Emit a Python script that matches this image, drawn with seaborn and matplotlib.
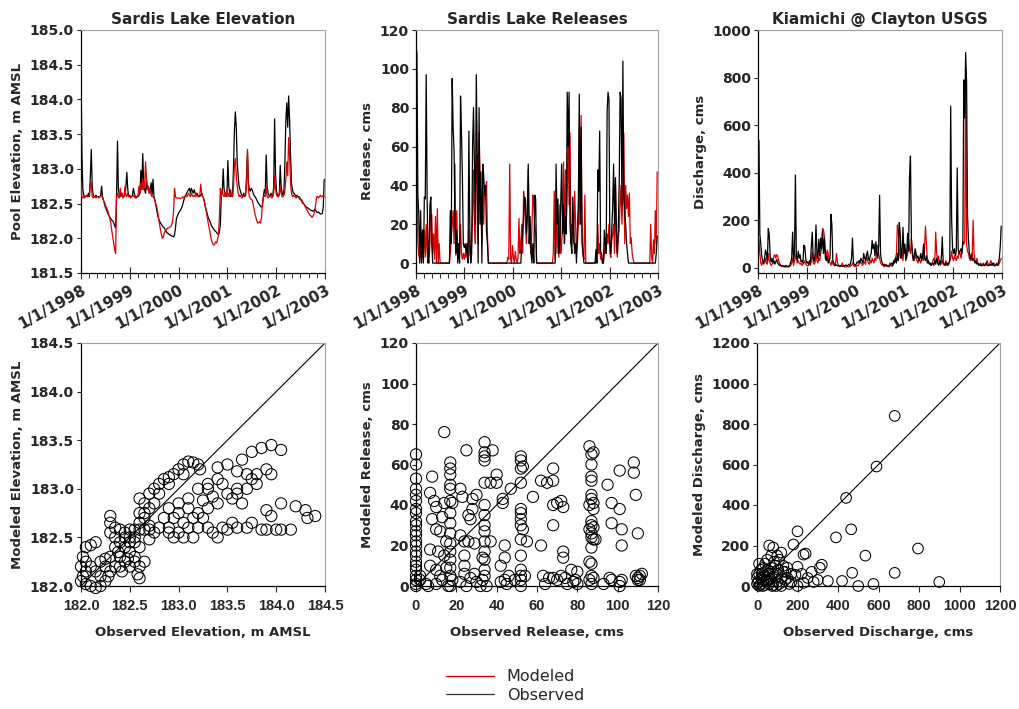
import pandas as pd
import matplotlib
matplotlib.use("Agg")
import matplotlib.pyplot as plt
import matplotlib.dates as mdates
from matplotlib.ticker import FuncFormatter, MultipleLocator, FormatStrFormatter
from matplotlib.lines import Line2D
import seaborn as sns

# weekly values starting 1/1/1998
elev_obs = [
    184.4, 183.2, 182.7, 182.62, 182.6, 182.6, 182.62, 182.6, 182.65, 182.6, 182.9, 183.28, 182.75,
    182.62, 182.6, 182.6, 182.62, 182.6, 182.6, 182.6, 182.6, 182.62, 182.75, 182.6, 182.55, 182.5,
    182.45, 182.42, 182.38, 182.35, 182.32, 182.3, 182.28, 182.26, 182.25, 182.22, 182.18, 182.15, 182.6,
    183.4, 182.7, 182.62, 182.6, 182.65, 182.62, 182.6, 182.6, 182.62, 182.75, 182.95, 182.7, 182.6,
    182.62, 182.6, 182.6, 182.62, 182.72, 182.65, 182.6, 182.58, 182.6, 182.6, 182.62, 182.65, 182.98,
    182.7, 183.22, 182.8, 182.7, 182.65, 182.85, 182.7, 182.75, 182.65, 182.7, 182.8, 182.62, 182.85,
    182.6, 182.55, 182.48, 182.4, 182.33, 182.28, 182.25, 182.22, 182.2, 182.18, 182.16, 182.15, 182.12,
    182.1, 182.08, 182.07, 182.06, 182.05, 182.04, 182.03, 182.03, 182.02, 182.05, 182.15, 182.28, 182.32,
    182.35, 182.38, 182.4, 182.42, 182.45, 182.5, 182.55, 182.6, 182.62, 182.65, 182.68, 182.7, 182.72,
    182.65, 182.72, 182.68, 182.65, 182.7, 182.65, 182.62, 182.65, 182.62, 182.6, 182.6, 182.62, 182.65,
    182.6, 182.58, 182.52, 182.45, 182.4, 182.35, 182.3, 182.27, 182.24, 182.2, 182.17, 182.15, 182.13,
    182.11, 182.1, 182.08, 182.07, 182.05, 182.1, 182.2, 182.62, 182.65, 183.0, 182.7, 182.65, 182.6,
    182.62, 183.12, 182.75, 182.65, 182.6, 182.62, 182.6, 183.0, 183.55, 183.82, 183.6, 183.1, 182.9,
    182.75, 182.7, 182.65, 182.62, 182.6, 182.65, 182.6, 182.62, 182.9, 183.25, 182.8, 182.7, 182.68,
    182.72, 182.7, 182.65, 182.62, 182.6, 182.58, 182.55, 182.52, 182.5, 182.48, 182.46, 182.45, 182.47,
    182.6, 182.7, 182.65, 183.2, 182.75, 182.65, 182.62, 182.6, 182.65, 182.62, 182.6, 182.75, 183.72,
    182.9, 182.68, 182.62, 182.6, 182.65, 183.05, 182.75, 182.65, 182.62, 182.7, 183.1, 183.7, 183.95,
    183.6, 184.05, 183.7, 183.2, 182.8, 182.7, 182.65, 182.65, 182.62, 182.6, 182.62, 182.6, 182.6,
    182.58, 182.56, 182.55, 182.52, 182.5, 182.48, 182.46, 182.45, 182.44, 182.43, 182.42, 182.41, 182.4,
    182.4, 182.39, 182.4, 182.42, 182.4, 182.38, 182.37, 182.38, 182.36, 182.35, 182.35, 182.36, 182.45,
    182.85,
]
elev_mod = [
    182.82, 182.6, 182.58, 182.6, 182.58, 182.6, 182.62, 182.6, 182.6, 182.62, 182.75, 182.8, 182.6,
    182.58, 182.6, 182.6, 182.58, 182.6, 182.6, 182.58, 182.6, 182.6, 182.62, 182.58, 182.55, 182.52,
    182.48, 182.45, 182.42, 182.38, 182.32, 182.28, 182.2, 182.1, 182.02, 181.92, 181.84, 181.78, 182.6,
    182.65, 182.6, 182.58, 182.72, 182.6, 182.65, 182.58, 182.6, 182.75, 182.62, 182.6, 182.65, 182.6,
    182.6, 182.58, 182.6, 182.6, 182.62, 182.6, 182.58, 182.6, 182.6, 182.62, 182.75, 182.65, 182.8,
    182.7, 182.85, 182.7, 182.75, 183.1, 182.85, 182.7, 182.75, 182.65, 182.7, 182.62, 182.6, 182.6,
    182.58, 182.55, 182.5, 182.45, 182.38, 182.28, 182.2, 182.12, 182.05, 182.0, 182.02, 182.08, 182.1,
    182.12, 182.14, 182.15, 182.15, 182.16, 182.17, 182.2, 182.25, 182.4, 182.72, 182.6, 182.58, 182.58,
    182.58, 182.58, 182.57, 182.58, 182.58, 182.6, 182.58, 182.6, 182.62, 182.6, 182.62, 182.65, 182.62,
    182.6, 182.65, 182.62, 182.6, 182.62, 182.6, 182.65, 182.6, 182.62, 182.6, 182.62, 182.78, 182.65,
    182.6, 182.58, 182.52, 182.45, 182.38, 182.3, 182.22, 182.15, 182.08, 182.0, 181.95, 181.92, 181.9,
    181.92, 181.95, 181.93, 181.98, 182.05, 182.3, 182.72, 182.6, 182.7, 182.62, 182.6, 182.65, 182.6,
    182.7, 182.6, 182.65, 182.6, 182.7, 182.62, 182.6, 182.72, 183.05, 183.15, 182.9, 182.75, 182.65,
    182.6, 182.62, 182.6, 182.58, 182.6, 182.62, 182.6, 182.65, 182.8, 183.28, 182.7, 182.6, 182.58,
    182.56, 182.55, 182.5, 182.42, 182.35, 182.3, 182.25, 182.22, 182.22, 182.24, 182.22, 182.3, 182.5,
    182.6, 182.62, 182.6, 182.75, 182.6, 182.58, 182.6, 182.62, 182.6, 182.58, 182.6, 182.65, 182.9,
    182.7, 182.62, 182.6, 182.6, 182.62, 182.75, 182.65, 182.6, 182.6, 182.62, 182.7, 182.85, 183.1,
    182.9, 183.45, 183.2, 182.8, 182.65, 182.6, 182.62, 182.6, 182.6, 182.58, 182.6, 182.6, 182.58,
    182.56, 182.55, 182.53, 182.5, 182.5, 182.48, 182.45, 182.42, 182.4, 182.37, 182.35, 182.33, 182.32,
    182.3, 182.32, 182.35, 182.4, 182.5, 182.6, 182.6, 182.58, 182.6, 182.62, 182.6, 182.6, 182.62,
    182.6,
]

rel_obs = [
    112, 108, 35, 25, 0, 27, 0, 17, 0, 34, 33, 97, 34,
    0, 5, 30, 34, 10, 0, 0, 0, 0, 0, 0, 0, 0,
    0, 0, 0, 0, 0, 0, 0, 0, 0, 0, 0, 27, 10,
    95, 70, 58, 20, 5, 17, 0, 10, 0, 86, 68, 45, 10,
    8, 10, 5, 10, 0, 68, 17, 0, 5, 61, 80, 50, 20,
    97, 56, 0, 80, 20, 47, 0, 51, 45, 35, 40, 16, 10,
    0, 0, 0, 0, 0, 0, 0, 0, 0, 0, 0, 0, 0,
    0, 0, 0, 0, 0, 0, 0, 0, 0, 0, 0, 0, 0,
    0, 0, 0, 0, 0, 0, 0, 0, 0, 0, 10, 15, 24,
    34, 33, 15, 24, 51, 10, 24, 5, 0, 10, 0, 35, 33,
    0, 0, 0, 0, 0, 0, 0, 0, 0, 0, 0, 0, 0,
    0, 0, 0, 0, 0, 0, 0, 0, 51, 20, 33, 5, 10,
    30, 51, 15, 30, 10, 24, 15, 88, 60, 88, 20, 10, 5,
    34, 17, 5, 10, 0, 17, 30, 87, 20, 70, 10, 5, 0,
    0, 0, 0, 0, 0, 0, 0, 0, 0, 0, 0, 0, 7,
    0, 48, 37, 68, 6, 5, 0, 0, 17, 10, 5, 78, 88,
    84, 10, 5, 17, 29, 51, 20, 44, 17, 5, 17, 40, 88,
    85, 30, 104, 35, 25, 20, 10, 5, 0, 0, 0, 0, 0,
    0, 0, 0, 0, 0, 0, 0, 0, 0, 0, 0, 0, 0,
    0, 0, 0, 0, 0, 0, 0, 0, 0, 0, 0, 0, 5,
    14,
]
rel_mod = [
    4, 60, 11, 4, 2, 10, 2, 17, 5, 17, 3, 20, 5,
    2, 0, 10, 25, 25, 5, 15, 2, 24, 0, 28, 0, 10,
    0, 0, 0, 0, 0, 0, 0, 0, 0, 0, 0, 5, 13,
    20, 27, 10, 51, 4, 27, 2, 10, 5, 20, 5, 2, 5,
    2, 5, 3, 10, 2, 17, 5, 2, 10, 25, 48, 20, 10,
    48, 56, 10, 67, 46, 30, 10, 45, 20, 40, 35, 42, 15,
    0, 0, 0, 0, 0, 0, 0, 0, 0, 0, 0, 0, 0,
    0, 0, 0, 0, 0, 0, 0, 0, 3, 2, 51, 2, 0,
    9, 3, 0, 6, 2, 0, 3, 23, 5, 10, 20, 5, 37,
    30, 20, 10, 25, 48, 20, 10, 5, 20, 35, 30, 20, 15,
    0, 0, 0, 0, 0, 0, 0, 0, 0, 0, 0, 0, 0,
    0, 0, 0, 0, 0, 5, 37, 2, 30, 5, 20, 3, 30,
    5, 10, 20, 52, 10, 48, 20, 35, 67, 30, 67, 10, 20,
    15, 10, 37, 20, 5, 10, 20, 70, 20, 76, 15, 5, 2,
    35, 0, 0, 0, 0, 0, 0, 0, 0, 0, 0, 0, 2,
    0, 20, 5, 10, 2, 3, 0, 0, 5, 10, 5, 15, 10,
    20, 5, 3, 12, 15, 20, 5, 40, 10, 3, 12, 17, 30,
    40, 20, 35, 67, 10, 40, 28, 35, 24, 36, 10, 13, 5,
    2, 0, 0, 0, 0, 0, 0, 0, 0, 0, 0, 0, 0,
    0, 0, 0, 0, 0, 0, 20, 3, 0, 12, 5, 27, 10,
    47,
]

q_obs = [
    60, 535, 140, 100, 50, 30, 20, 40, 75, 60, 30, 165, 140,
    50, 25, 40, 20, 30, 15, 25, 35, 20, 15, 10, 12, 8,
    10, 6, 8, 5, 10, 6, 5, 8, 10, 25, 40, 150, 30,
    60, 390, 50, 30, 70, 40, 55, 25, 30, 20, 95, 90, 40,
    20, 25, 15, 30, 20, 90, 150, 40, 25, 60, 180, 60, 40,
    120, 50, 125, 80, 155, 60, 125, 40, 30, 50, 20, 30, 40,
    225, 180, 30, 20, 15, 10, 12, 8, 10, 6, 8, 10, 6,
    5, 8, 10, 12, 8, 10, 15, 10, 20, 40, 125, 20, 15,
    10, 15, 25, 20, 30, 20, 40, 30, 20, 60, 40, 30, 50,
    70, 40, 30, 50, 60, 115, 80, 100, 50, 110, 60, 40, 90,
    305, 60, 30, 20, 10, 15, 8, 10, 6, 8, 5, 10, 15,
    20, 10, 30, 20, 40, 20, 60, 30, 190, 150, 40, 60, 170,
    60, 100, 30, 60, 145, 70, 385, 470, 120, 60, 30, 50, 80,
    60, 40, 50, 30, 40, 60, 30, 50, 100, 40, 30, 50, 20,
    30, 15, 20, 10, 15, 20, 10, 30, 15, 40, 20, 10, 30,
    15, 40, 130, 20, 15, 10, 20, 15, 10, 20, 30, 680, 205,
    80, 60, 80, 50, 70, 420, 80, 60, 70, 80, 60, 100, 790,
    630, 905, 780, 220, 120, 60, 40, 50, 30, 40, 30, 20, 30,
    15, 20, 10, 15, 10, 8, 10, 15, 8, 10, 20, 10, 8,
    12, 10, 15, 10, 20, 10, 8, 10, 15, 10, 20, 40, 90,
    175,
]
q_mod = [
    20, 120, 60, 20, 10, 30, 15, 20, 40, 20, 15, 60, 30,
    20, 10, 15, 20, 50, 55, 40, 55, 50, 30, 20, 10, 5,
    8, 5, 4, 5, 3, 4, 5, 3, 5, 10, 20, 40, 10,
    30, 40, 60, 20, 30, 20, 15, 20, 10, 15, 20, 30, 15,
    10, 8, 10, 20, 10, 30, 65, 20, 15, 20, 60, 30, 20,
    40, 30, 60, 80, 165, 160, 130, 70, 40, 75, 60, 30, 20,
    10, 30, 15, 10, 8, 20, 60, 20, 10, 8, 5, 8, 20,
    10, 5, 3, 5, 4, 5, 3, 5, 8, 10, 20, 10, 5,
    8, 5, 10, 8, 15, 30, 20, 15, 10, 30, 20, 15, 60,
    30, 20, 15, 30, 20, 40, 30, 20, 40, 30, 85, 95, 60,
    40, 20, 15, 10, 8, 5, 10, 15, 10, 5, 8, 20, 10,
    5, 10, 20, 30, 40, 60, 180, 160, 70, 40, 80, 60, 30,
    80, 60, 80, 40, 60, 120, 80, 60, 120, 70, 40, 30, 60,
    40, 30, 20, 40, 30, 20, 40, 60, 30, 80, 175, 100, 40,
    30, 20, 15, 10, 20, 30, 40, 20, 150, 60, 30, 50, 20,
    10, 20, 30, 15, 10, 20, 30, 10, 20, 15, 30, 40, 70,
    40, 30, 50, 40, 30, 50, 40, 70, 60, 40, 70, 110, 100,
    110, 840, 100, 70, 60, 40, 30, 60, 40, 200, 60, 30, 20,
    40, 20, 10, 15, 20, 10, 15, 20, 10, 15, 20, 30, 15,
    10, 20, 30, 15, 10, 20, 15, 10, 20, 15, 10, 20, 30,
    40,
]

# (observed, modeled) pairs for the scatter panels
elev_pairs = [
    (182.6, 182.9), (182.65, 182.85), (182.7, 182.95), (182.75, 183.0), (182.8, 183.05),
    (182.85, 183.1), (182.9, 183.12), (182.95, 183.15), (183.0, 183.2), (183.05, 183.25),
    (183.1, 183.28), (183.15, 183.27), (183.2, 183.25), (183.22, 183.2), (182.75, 182.85),
    (182.8, 182.95), (182.9, 183.05), (183.05, 183.15), (182.7, 182.8), (182.65, 182.75),
    (183.0, 182.85), (183.1, 182.9), (183.2, 183.0), (183.3, 183.05), (183.4, 183.1),
    (183.4, 183.22), (183.5, 183.25), (183.6, 183.18), (183.7, 183.15), (183.8, 183.15),
    (183.9, 183.2), (183.95, 183.15), (183.65, 183.3), (183.75, 183.38), (183.85, 183.42),
    (183.95, 183.45), (184.05, 183.4), (183.3, 183.0), (183.45, 183.05), (183.5, 182.95),
    (183.55, 182.9), (183.6, 183.0), (183.7, 183.0), (183.75, 183.1), (183.8, 183.05),
    (183.3, 182.8), (183.4, 182.85), (183.2, 182.75), (183.1, 182.8), (183.0, 182.75),
    (182.9, 182.8), (182.95, 182.7), (183.05, 182.65), (183.15, 182.7), (183.25, 182.7),
    (183.3, 182.6), (183.2, 182.6), (183.1, 182.6), (183.0, 182.55), (182.9, 182.6),
    (182.85, 182.7), (182.8, 182.6), (182.9, 182.55), (183.05, 182.5), (183.4, 182.5),
    (183.45, 182.6), (183.55, 182.65), (183.5, 182.58), (183.6, 182.6), (183.7, 182.6),
    (183.75, 182.65), (183.85, 182.58), (183.9, 182.58), (184.0, 182.58), (184.05, 182.58),
    (184.15, 182.58), (183.9, 182.78), (183.95, 182.72), (184.05, 182.85), (184.2, 182.82),
    (184.3, 182.78), (184.32, 182.7), (184.4, 182.72), (183.65, 182.85), (183.6, 182.95),
    (183.35, 182.55), (183.15, 182.5), (182.95, 182.5), (183.25, 182.88), (183.35, 182.92),
    (182.3, 182.72), (182.3, 182.65), (182.35, 182.6), (182.4, 182.58), (182.35, 182.5),
    (182.3, 182.55), (182.5, 182.58), (182.55, 182.58), (182.6, 182.58), (182.65, 182.58),
    (182.7, 182.58), (182.45, 182.55), (182.5, 182.45), (182.45, 182.4), (182.5, 182.35),
    (182.55, 182.3), (182.6, 182.2), (182.55, 182.25), (182.5, 182.2), (182.65, 182.25),
    (182.6, 182.08), (182.58, 182.12), (182.7, 182.48), (182.75, 182.55), (182.7, 182.62),
    (182.65, 182.7), (182.6, 182.75), (182.6, 182.65), (182.45, 182.5), (182.4, 182.45),
    (182.35, 182.4), (182.4, 182.3), (182.35, 182.2), (182.3, 182.15), (182.28, 182.1),
    (182.25, 182.05), (182.2, 182.0), (182.15, 181.98), (182.1, 182.0), (182.05, 182.02),
    (182.0, 182.05), (182.02, 182.1), (182.05, 182.15), (182.0, 182.2), (182.02, 182.3),
    (182.05, 182.4), (182.1, 182.42), (182.15, 182.45), (182.05, 182.25), (182.1, 182.2),
    (182.15, 182.15), (182.2, 182.1), (182.25, 182.2), (182.2, 182.25), (182.3, 182.3),
    (182.25, 182.28), (182.4, 182.2), (182.45, 182.25), (182.55, 182.45), (182.6, 182.4),
    (182.5, 182.5), (182.55, 182.5), (182.38, 182.35), (182.42, 182.15), (182.48, 182.28),
]
rel_pairs = [
    (0, 65), (0, 60), (0, 53), (0, 48), (0, 45), (0, 42), (0, 38), (0, 36), (0, 32), (0, 30),
    (0, 27), (0, 25), (0, 22), (0, 20), (0, 17), (0, 15), (0, 12), (0, 10), (0, 8), (0, 5),
    (0, 3), (0, 1), (0, 0), (2, 3), (2, 5),
    (5, 1), (7, 18), (8, 33), (7, 46), (8, 54), (9, 42), (10, 39), (10, 28), (7, 10), (10, 8),
    (12, 5), (10, 1), (6, 0), (11, 17), (12, 27),
    (14, 76), (14, 41), (13, 34), (15, 22), (14, 15), (15, 9), (13, 3), (16, 0),
    (17, 61), (17, 58), (17, 55), (17, 50), (17, 48), (17, 42), (18, 41), (17, 36), (17, 31),
    (17, 26), (17, 21), (17, 17), (17, 13), (17, 9), (17, 5), (17, 0), (18, 3),
    (22, 48), (25, 67), (23, 44), (26, 35), (28, 43), (30, 45), (28, 38), (27, 33), (22, 25),
    (24, 22), (26, 22), (29, 21), (24, 15), (24, 10), (24, 6), (27, 4), (22, 2), (25, 0),
    (30, 2), (29, 6), (32, 0),
    (34, 71), (34, 66), (34, 64), (34, 62), (34, 51), (34, 40), (34, 35), (34, 30), (34, 27),
    (34, 22), (34, 17), (34, 13), (34, 8), (34, 5), (33, 3), (35, 0), (33, 14),
    (38, 67), (37, 51), (40, 51), (40, 55), (37, 22), (43, 43), (43, 41), (44, 20), (44, 14),
    (42, 10), (44, 3), (46, 5), (47, 48), (42, 2), (45, 1), (49, 3),
    (52, 64), (52, 62), (52, 58), (53, 59), (52, 51), (52, 38), (52, 36), (52, 33), (52, 30),
    (52, 23), (53, 28), (52, 15), (52, 8), (52, 5), (52, 3), (52, 0), (55, 22), (54, 5),
    (58, 44), (62, 52), (65, 51), (68, 58), (68, 52), (68, 40), (68, 30), (70, 41), (72, 42),
    (73, 39), (62, 20), (63, 5), (64, 1), (66, 4), (68, 4), (70, 3), (72, 5), (73, 17),
    (73, 14), (75, 1), (74, 4), (77, 8), (80, 7), (79, 3), (80, 1), (78, 2),
    (86, 69), (87, 65), (88, 66), (87, 60), (87, 54), (87, 52), (87, 45), (87, 43), (86, 40),
    (88, 38), (88, 41), (87, 32), (87, 30), (86, 28), (88, 29), (87, 26), (87, 24), (88, 23),
    (87, 19), (86, 12), (87, 11), (87, 5), (86, 3), (87, 1), (88, 4), (89, 23),
    (93, 1), (95, 50), (96, 4), (97, 41), (97, 31), (97, 3), (101, 38), (102, 28), (102, 20),
    (101, 57), (101, 2), (101, 0), (108, 61), (108, 56), (109, 45), (110, 26), (109, 5),
    (110, 3), (111, 5), (112, 6), (110, 4), (111, 3), (102, 3),
]
q_pairs = [
    (680, 840), (590, 590), (440, 435), (465, 280), (390, 240), (200, 270), (795, 185),
    (535, 150), (680, 65), (470, 65), (900, 20), (575, 10), (500, 0), (420, 25), (350, 25),
    (320, 105), (310, 90), (270, 70), (240, 160), (230, 155), (180, 205), (170, 60), (190, 55),
    (200, 95), (220, 60), (280, 20), (230, 15), (200, 0), (150, 40), (140, 70), (130, 100),
    (120, 165), (110, 130), (100, 150), (90, 100), (80, 190), (60, 200), (70, 150), (50, 130),
    (40, 110), (30, 90), (20, 80), (10, 60), (0, 40), (5, 20), (10, 0), (30, 0), (50, 30),
    (60, 60), (40, 70), (25, 60), (20, 40), (35, 50), (70, 90), (80, 60), (90, 40), (100, 20),
    (110, 10), (120, 40), (140, 30), (160, 10), (60, 10), (40, 5), (20, 10), (80, 5), (100, 60),
    (130, 70), (150, 90), (170, 20), (250, 40), (300, 30), (0, 10), (0, 60), (10, 110), (30, 30),
    (45, 25), (65, 35), (75, 0), (95, 0), (120, 0), (15, 5), (55, 75), (85, 120), (105, 80),
]

RED = "#dd0000"

sns.set_style("ticks")
plt.rcParams["font.family"] = ["DejaVu Sans"]
plt.rcParams["font.weight"] = "bold"
plt.rcParams["axes.labelweight"] = "bold"
plt.rcParams["axes.titleweight"] = "bold"
plt.rcParams["xtick.labelsize"] = 11
plt.rcParams["ytick.labelsize"] = 10
plt.rcParams["axes.labelsize"] = 9.5
plt.rcParams["axes.titlesize"] = 11

W, H = 1019, 709
fig = plt.figure(figsize=(W / 100, H / 100), dpi=100)


def px_axes(l, t, r, b):
    return fig.add_axes([l / W, 1 - b / H, (r - l) / W, (b - t) / H])


def frame(ax):
    for s in ["top", "right"]:
        ax.spines[s].set_color("#a0a0a0")
        ax.spines[s].set_linewidth(0.8)
    for s in ["left", "bottom"]:
        ax.spines[s].set_color("black")
        ax.spines[s].set_linewidth(0.9)
    ax.tick_params(axis="y", direction="out", length=3, width=0.8, pad=2)


def year_label(v, pos):
    d = mdates.num2date(v)
    return f"{d.month}/{d.day}/{d.year}"


def time_panel(ax, obs, mod, title, ylabel, ylim, ystep, fmt, red_top):
    dates_o = pd.date_range("1998-01-01", periods=len(obs), freq="7D")
    dates_m = pd.date_range("1998-01-01", periods=len(mod), freq="7D")
    zo, zm = (2, 3) if red_top else (3, 2)
    sns.lineplot(x=dates_o, y=obs, color="black", lw=0.9, estimator=None, ax=ax, zorder=zo)
    sns.lineplot(x=dates_m, y=mod, color=RED, lw=0.9, estimator=None, ax=ax, zorder=zm)
    ax.set_xlim(pd.Timestamp("1998-01-01"), pd.Timestamp("2003-01-01"))
    ax.set_ylim(*ylim)
    ax.yaxis.set_major_locator(MultipleLocator(ystep))
    ax.yaxis.set_major_formatter(FormatStrFormatter(fmt))
    ax.xaxis.set_major_locator(mdates.YearLocator())
    ax.xaxis.set_minor_locator(mdates.MonthLocator(bymonth=[3, 5, 7, 9, 11]))
    ax.xaxis.set_major_formatter(FuncFormatter(year_label))
    ax.tick_params(axis="x", which="major", direction="inout", length=8, width=0.8, pad=3)
    ax.tick_params(axis="x", which="minor", direction="out", length=3.5, width=0.7)
    plt.setp(ax.get_xticklabels(), rotation=29, ha="right", rotation_mode="anchor")
    ax.set_title(title, pad=4)
    ax.set_ylabel(ylabel)
    ax.set_xlabel("")
    frame(ax)


def scatter_panel(ax, pairs, lim, step, fmt, xlabel, ylabel, size):
    df = pd.DataFrame(pairs, columns=["obs", "mod"])
    ax.plot([lim[0], lim[1]], [lim[0], lim[1]], color="black", lw=0.8, zorder=2)
    sns.scatterplot(data=df, x="obs", y="mod", marker="o", s=size, facecolors="none",
                    edgecolor="black", linewidth=0.75, ax=ax, clip_on=False, zorder=3)
    ax.set_xlim(*lim)
    ax.set_ylim(*lim)
    ax.xaxis.set_major_locator(MultipleLocator(step))
    ax.yaxis.set_major_locator(MultipleLocator(step))
    ax.xaxis.set_major_formatter(FormatStrFormatter(fmt))
    ax.yaxis.set_major_formatter(FormatStrFormatter(fmt))
    ax.tick_params(axis="x", direction="out", length=4, width=0.8, pad=5,
                   labelsize=10.5, labelfontfamily="Liberation Sans")
    ax.set_xlabel(xlabel, labelpad=10)
    ax.set_ylabel(ylabel)
    frame(ax)


ax1 = px_axes(81, 30, 325, 273)
ax2 = px_axes(416, 30, 658, 273)
ax3 = px_axes(758, 30, 1002, 273)
ax4 = px_axes(81, 343, 325, 586)
ax5 = px_axes(416, 343, 658, 586)
ax6 = px_axes(757, 343, 1000, 586)

time_panel(ax1, elev_obs, elev_mod, "Sardis Lake Elevation", "Pool Elevation, m AMSL",
           (181.5, 185.0), 0.5, "%.1f", True)
time_panel(ax2, rel_obs, rel_mod, "Sardis Lake Releases", "Release, cms",
           (-5.1, 120), 20, "%d", False)
time_panel(ax3, q_obs, q_mod, "Kiamichi @ Clayton USGS", "Discharge, cms",
           (-22, 1000), 200, "%d", False)

scatter_panel(ax4, elev_pairs, (182.0, 184.5), 0.5, "%.1f",
              "Observed Elevation, m AMSL", "Modeled Elevation, m AMSL", 65)
scatter_panel(ax5, rel_pairs, (0, 120), 20, "%d",
              "Observed Release, cms", "Modeled Release, cms", 65)
scatter_panel(ax6, q_pairs, (0, 1200), 200, "%d",
              "Observed Discharge, cms", "Modeled Discharge, cms", 58)

handles = [Line2D([], [], color=RED, lw=1.0), Line2D([], [], color="#333333", lw=0.9)]
fig.legend(handles, ["Modeled", "Observed"], loc="center",
           bbox_to_anchor=(515 / W, 1 - 686 / H), frameon=False,
           prop={"weight": "normal", "size": 11.5}, handlelength=3.0,
           labelspacing=0.2, handletextpad=0.8)

fig.savefig("out.png", dpi=100)
